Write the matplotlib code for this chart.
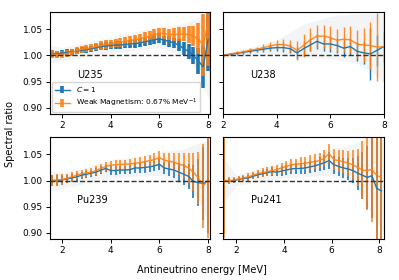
import matplotlib
matplotlib.use("Agg")
import matplotlib.pyplot as plt
import numpy as np

plt.rcParams.update({
    "font.family": "DejaVu Sans",
    "font.size": 6.5,
    "axes.linewidth": 0.8,
})

BLUE = "#1f77b4"
ORANGE = "#ff7f0e"

# ---- U235 ----
u235_e = [1.6, 1.8, 2.0, 2.2, 2.4, 2.6, 2.8, 3.0, 3.2, 3.4, 3.6, 3.8, 4.0, 4.2, 4.4, 4.6, 4.8,
          5.0, 5.2, 5.4, 5.6, 5.8, 6.0, 6.2, 6.4, 6.6, 6.8, 7.0, 7.2, 7.4, 7.6, 7.8, 8.0]
u235_c1 = [1.004, 1.003, 1.005, 1.006, 1.007, 1.008, 1.010, 1.011, 1.013, 1.015, 1.017, 1.018,
           1.019, 1.020, 1.020, 1.021, 1.022, 1.023, 1.024, 1.026, 1.028, 1.030, 1.032, 1.029,
           1.027, 1.024, 1.020, 1.013, 1.008, 1.000, 0.990, 0.978, 1.030]
u235_c1_err = [0.006, 0.006, 0.006, 0.006, 0.006, 0.006, 0.006, 0.006, 0.006, 0.006, 0.006, 0.007,
               0.007, 0.007, 0.007, 0.007, 0.008, 0.008, 0.008, 0.008, 0.008, 0.009, 0.009, 0.009,
               0.010, 0.010, 0.011, 0.012, 0.014, 0.017, 0.025, 0.040, 0.060]
u235_wm = [1.003, 1.002, 1.002, 1.004, 1.006, 1.009, 1.012, 1.013, 1.015, 1.017, 1.019, 1.021,
           1.022, 1.024, 1.025, 1.027, 1.029, 1.030, 1.032, 1.034, 1.037, 1.040, 1.043, 1.042,
           1.040, 1.040, 1.041, 1.041, 1.040, 1.037, 1.032, 1.020, 1.060]
u235_wm_err = [0.007, 0.007, 0.007, 0.007, 0.007, 0.007, 0.007, 0.007, 0.007, 0.007, 0.008, 0.008,
               0.008, 0.008, 0.008, 0.009, 0.009, 0.009, 0.009, 0.010, 0.010, 0.010, 0.010, 0.011,
               0.011, 0.012, 0.013, 0.014, 0.016, 0.019, 0.030, 0.060, 0.080]

# ---- U238 ----
u238_e = [2.0, 2.25, 2.5, 2.75, 3.0, 3.25, 3.5, 3.75, 4.0, 4.25, 4.5, 4.75, 5.0, 5.25, 5.5, 5.75,
          6.0, 6.25, 6.5, 6.75, 7.0, 7.25, 7.5, 7.75, 8.0]
u238_c1 = [1.000, 1.002, 1.004, 1.006, 1.008, 1.010, 1.012, 1.014, 1.015, 1.015, 1.013, 1.005,
           1.013, 1.020, 1.027, 1.022, 1.022, 1.019, 1.014, 1.017, 1.008, 1.005, 1.003, 1.010, 1.017]
u238_c1_err = [0.002, 0.002, 0.003, 0.003, 0.004, 0.004, 0.005, 0.006, 0.007, 0.008, 0.009, 0.012,
               0.014, 0.012, 0.014, 0.014, 0.015, 0.015, 0.016, 0.017, 0.018, 0.022, 0.050, 0.030, 0.030]
u238_wm = [1.000, 1.003, 1.005, 1.007, 1.010, 1.012, 1.015, 1.018, 1.021, 1.021, 1.018, 1.010,
           1.019, 1.030, 1.037, 1.037, 1.034, 1.029, 1.031, 1.030, 1.022, 1.020, 1.019, 1.016, 1.017]
u238_wm_err = [0.002, 0.002, 0.003, 0.003, 0.004, 0.005, 0.006, 0.007, 0.009, 0.011, 0.012, 0.018,
               0.022, 0.022, 0.022, 0.022, 0.022, 0.022, 0.024, 0.026, 0.026, 0.032, 0.045, 0.065, 0.065]

# ---- Pu239 ----
pu239_e = [1.6, 1.8, 2.0, 2.2, 2.4, 2.6, 2.8, 3.0, 3.2, 3.4, 3.6, 3.8, 4.0, 4.2, 4.4, 4.6, 4.8,
           5.0, 5.2, 5.4, 5.6, 5.8, 6.0, 6.2, 6.4, 6.6, 6.8, 7.0, 7.2, 7.4, 7.6, 7.8, 8.0]
pu239_c1 = [1.000, 1.000, 1.001, 1.003, 1.005, 1.007, 1.010, 1.012, 1.014, 1.016, 1.020, 1.023,
            1.019, 1.019, 1.020, 1.020, 1.021, 1.024, 1.024, 1.025, 1.026, 1.028, 1.031, 1.024,
            1.022, 1.020, 1.016, 1.012, 1.008, 0.998, 0.996, 0.994, 1.000]
pu239_c1_err = [0.010, 0.010, 0.009, 0.008, 0.008, 0.007, 0.007, 0.007, 0.007, 0.007, 0.007, 0.007,
                0.008, 0.008, 0.008, 0.008, 0.009, 0.009, 0.009, 0.010, 0.010, 0.010, 0.011, 0.012,
                0.013, 0.015, 0.017, 0.020, 0.024, 0.032, 0.045, 0.070, 0.100]
pu239_wm = [1.000, 1.001, 1.002, 1.004, 1.007, 1.010, 1.013, 1.014, 1.016, 1.019, 1.023, 1.027,
            1.029, 1.030, 1.031, 1.031, 1.032, 1.033, 1.034, 1.036, 1.038, 1.040, 1.044, 1.039,
            1.037, 1.035, 1.031, 1.029, 1.024, 1.016, 1.005, 0.990, 1.000]
pu239_wm_err = [0.011, 0.011, 0.010, 0.009, 0.009, 0.008, 0.008, 0.008, 0.008, 0.008, 0.008, 0.008,
                0.009, 0.009, 0.009, 0.009, 0.010, 0.010, 0.010, 0.011, 0.011, 0.012, 0.013, 0.014,
                0.016, 0.018, 0.021, 0.024, 0.028, 0.036, 0.050, 0.080, 0.110]

# ---- Pu241 ----
pu241_e = [1.5, 1.7, 1.9, 2.1, 2.3, 2.5, 2.7, 2.9, 3.1, 3.3, 3.5, 3.7, 3.9, 4.1, 4.3, 4.5, 4.7,
           4.9, 5.1, 5.3, 5.5, 5.7, 5.9, 6.1, 6.3, 6.5, 6.7, 6.9, 7.1, 7.3, 7.5, 7.7, 7.9, 8.1]
pu241_c1 = [1.000, 0.999, 1.000, 1.002, 1.004, 1.005, 1.008, 1.011, 1.013, 1.015, 1.017, 1.016,
            1.018, 1.020, 1.022, 1.023, 1.023, 1.024, 1.026, 1.028, 1.031, 1.034, 1.038, 1.030,
            1.027, 1.024, 1.022, 1.019, 1.014, 1.010, 1.006, 1.009, 0.985, 0.980]
pu241_c1_err = [0.100, 0.005, 0.005, 0.005, 0.005, 0.006, 0.006, 0.006, 0.007, 0.007, 0.008, 0.008,
                0.009, 0.009, 0.010, 0.010, 0.011, 0.011, 0.012, 0.012, 0.013, 0.014, 0.016, 0.017,
                0.018, 0.019, 0.021, 0.024, 0.032, 0.045, 0.060, 0.080, 0.110, 0.120]
pu241_wm = [1.000, 1.000, 1.001, 1.003, 1.005, 1.007, 1.010, 1.013, 1.015, 1.017, 1.019, 1.021,
            1.024, 1.027, 1.030, 1.031, 1.032, 1.033, 1.035, 1.036, 1.038, 1.043, 1.051, 1.040,
            1.038, 1.036, 1.033, 1.030, 1.025, 1.020, 1.019, 1.021, 1.010, 1.006]
pu241_wm_err = [0.110, 0.006, 0.006, 0.006, 0.006, 0.007, 0.007, 0.007, 0.008, 0.008, 0.009, 0.009,
                0.010, 0.010, 0.011, 0.011, 0.012, 0.012, 0.013, 0.014, 0.015, 0.016, 0.018, 0.020,
                0.021, 0.022, 0.024, 0.028, 0.036, 0.055, 0.075, 0.100, 0.130, 0.140]

# faint ensemble haze (rough envelope of the thin background lines)
haze_e = [1.5, 2.0, 3.0, 4.0, 5.0, 6.0, 7.0, 7.5, 8.2]
u235_haze_lo = [0.985, 0.990, 0.998, 1.005, 1.010, 1.015, 1.000, 0.975, 0.90]
u235_haze_hi = [1.020, 1.015, 1.025, 1.035, 1.045, 1.055, 1.060, 1.070, 1.08]
u238_haze_lo = [0.995, 0.995, 1.000, 1.002, 0.995, 0.995, 0.985, 0.970, 0.94]
u238_haze_hi = [1.005, 1.005, 1.015, 1.030, 1.060, 1.075, 1.080, 1.080, 1.08]
pu239_haze_lo = [0.980, 0.985, 0.995, 1.005, 1.008, 1.010, 0.995, 0.970, 0.90]
pu239_haze_hi = [1.020, 1.015, 1.025, 1.040, 1.045, 1.055, 1.060, 1.070, 1.08]
pu241_haze_lo = [0.960, 0.990, 0.998, 1.005, 1.008, 1.010, 0.990, 0.950, 0.90]
pu241_haze_hi = [1.040, 1.010, 1.025, 1.035, 1.045, 1.060, 1.070, 1.080, 1.08]

panels = [
    ("U235", u235_e, u235_c1, u235_c1_err, u235_wm, u235_wm_err, u235_haze_lo, u235_haze_hi, (1.5, 8.1), 2.6),
    ("U238", u238_e, u238_c1, u238_c1_err, u238_wm, u238_wm_err, u238_haze_lo, u238_haze_hi, (2.0, 8.0), 1.0),
    ("Pu239", pu239_e, pu239_c1, pu239_c1_err, pu239_wm, pu239_wm_err, pu239_haze_lo, pu239_haze_hi, (1.5, 8.1), 1.2),
    ("Pu241", pu241_e, pu241_c1, pu241_c1_err, pu241_wm, pu241_wm_err, pu241_haze_lo, pu241_haze_hi, (1.45, 8.2), 1.2),
]

fig, axes = plt.subplots(2, 2, figsize=(3.99, 2.8), dpi=100, sharey=True)
fig.subplots_adjust(left=0.125, right=0.962, bottom=0.146, top=0.957, wspace=0.08, hspace=0.225)

for ax, (name, e, c1, c1e, wm, wme, hlo, hhi, xl, elw) in zip(axes.flat, panels):
    ax.fill_between(haze_e, hlo, hhi, color="#9aa5b0", alpha=0.12, lw=0)
    ax.errorbar(e, c1, yerr=c1e, color=BLUE, lw=1.0, elinewidth=elw, label="$C = 1$")
    ax.errorbar(e, wm, yerr=wme, color=ORANGE, lw=1.0, elinewidth=elw, alpha=0.9,
                label="Weak Magnetism: 0.67% MeV$^{-1}$")
    ax.axhline(1.0, color="#333333", ls="--", lw=1.0, zorder=5)
    ax.text(0.17, 0.35, name, transform=ax.transAxes, fontsize=7)
    ax.set_xlim(*xl)
    ax.set_xticks([2, 4, 6, 8])
    ax.set_ylim(0.888, 1.083)
    ax.set_yticks([0.90, 0.95, 1.00, 1.05])
    ax.tick_params(length=3, width=0.7, labelsize=6.5, pad=2)

axes[0, 0].legend(loc="lower left", fontsize=5.4, borderaxespad=0.25, handlelength=2.0,
                  labelspacing=0.35, borderpad=0.4)

fig.text(0.025, 0.52, "Spectral ratio", rotation=90, ha="center", va="center", fontsize=7)
fig.text(0.506, 0.035, "Antineutrino energy [MeV]", ha="center", va="center", fontsize=7)

fig.savefig("out.png", dpi=100)
